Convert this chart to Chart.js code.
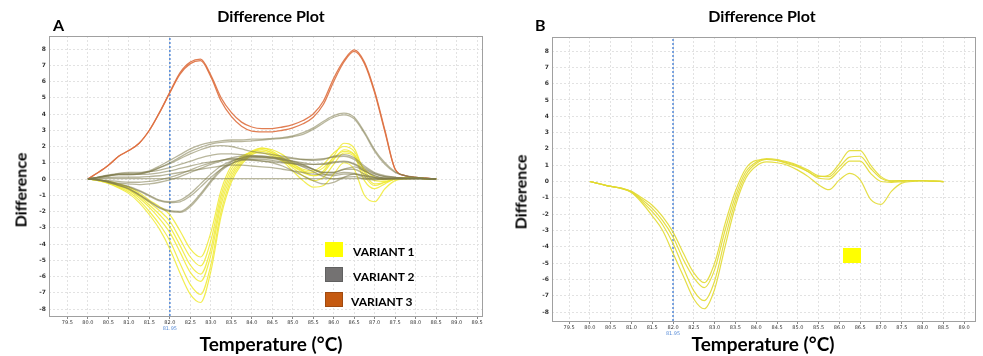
<!DOCTYPE html>
<html>
<head>
<meta charset="utf-8">
<script src="https://cdn.jsdelivr.net/npm/chart.js@4.4.1/dist/chart.umd.min.js"></script>
<style>
  html, body { margin: 0; padding: 0; background: #fff; }
  #wrap { position: relative; width: 983px; height: 356px; overflow: hidden; font-family: Lato, "Open Sans", sans-serif; color: #000; }
  canvas { position: absolute; top: 0; }
  .lbl { position: absolute; font-weight: bold; white-space: nowrap; }
  .title { font-size: 16px; transform: translateX(-50%); }
  .panel { font-size: 16px; }
  .xt { font-size: 19px; transform: translateX(-50%); }
  .yt { font-size: 16px; transform: translate(-50%, -50%) rotate(-90deg); }
  .sw { position: absolute; width: 18px; height: 15px; }
  .leg { font-size: 12px; }
</style>
</head>
<body>
<div id="wrap">
  <canvas id="chartA" width="490" height="356" style="left:0"></canvas>
  <canvas id="chartB" width="488" height="356" style="left:495px"></canvas>

  <div class="lbl panel" style="left:53px; top:15px;">A</div>
  <div class="lbl panel" style="left:535px; top:15px;">B</div>
  <div class="lbl title" style="left:271px; top:6px;">Difference Plot</div>
  <div class="lbl title" style="left:762px; top:6px;">Difference Plot</div>
  <div class="lbl yt" style="left:20px; top:190px;">Difference</div>
  <div class="lbl yt" style="left:520px; top:192px;">Difference</div>
  <div class="lbl xt" style="left:271px; top:332px;">Temperature (°C)</div>
  <div class="lbl xt" style="left:763px; top:332px;">Temperature (°C)</div>

  <div class="sw" style="left:325px; top:242px; background:#ffff00;"></div>
  <div class="sw" style="left:325px; top:267px; background:#747272; box-shadow: inset 0 0 0 1px #606060;"></div>
  <div class="sw" style="left:325px; top:292px; background:#c55a11; box-shadow: inset 0 0 0 1px #a04a10;"></div>
  <div class="lbl leg" style="left:353px; top:244px;">VARIANT 1</div>
  <div class="lbl leg" style="left:353px; top:269px;">VARIANT 2</div>
  <div class="lbl leg" style="left:351px; top:294px;">VARIANT 3</div>
  <div class="sw" style="left:843px; top:248px; background:#ffff00;"></div>
</div>

<script>
// temperatures shared by every curve
const temps = [80.0, 80.25, 80.5, 80.75, 81.0, 81.25, 81.5, 81.75, 82.0, 82.25, 82.5, 82.75,
               83.0, 83.25, 83.5, 83.75, 84.0, 84.25, 84.5, 84.75, 85.0, 85.25, 85.5, 85.75,
               86.0, 86.25, 86.5, 86.75, 87.0, 87.25, 87.5, 87.75, 88.0, 88.25, 88.5];

const xTicksA = [79.5, 80.0, 80.5, 81.0, 81.5, 82.0, 82.5, 83.0, 83.5, 84.0, 84.5, 85.0, 85.5, 86.0, 86.5, 87.0, 87.5, 88.0, 88.5, 89.0, 89.5];
const xTicksB = [79.5, 80.0, 80.5, 81.0, 81.5, 82.0, 82.5, 83.0, 83.5, 84.0, 84.5, 85.0, 85.5, 86.0, 86.5, 87.0, 87.5, 88.0, 88.5, 89.0];
const yTicks = [-8, -7, -6, -5, -4, -3, -2, -1, 0, 1, 2, 3, 4, 5, 6, 7, 8];
const markerTemp = 82.0;
const markerLabel = "81.95";

// panel A, variant 1 (yellow)
const yellowA = [
  [0, -0.05, -0.15, -0.3, -0.5, -0.85, -1.3, -1.7, -2.2, -3.2, -4.3, -4.8, -3.3, -0.7, 0.8, 1.4, 1.6, 1.6, 1.4, 1.1, 0.8, 0.5, 0.4, 0.7, 1.3, 1.7, 1.5, 0.6, 0.1, -0.05, 0.0, 0.05, 0.05, 0.02, 0],
  [0, -0.05, -0.18, -0.35, -0.55, -0.95, -1.45, -1.95, -2.6, -3.7, -4.8, -5.35, -3.8, -1.0, 0.6, 1.3, 1.7, 1.8, 1.6, 1.3, 0.9, 0.6, 0.5, 0.9, 1.6, 2.0, 1.7, 0.5, -0.1, -0.15, 0.0, 0.05, 0.05, 0.02, 0],
  [0, -0.08, -0.2, -0.4, -0.65, -1.05, -1.6, -2.2, -2.95, -4.1, -5.3, -5.85, -4.3, -1.3, 0.4, 1.2, 1.7, 1.9, 1.7, 1.3, 0.8, 0.4, 0.2, 0.5, 1.4, 2.2, 1.9, 0.4, -0.3, -0.2, 0.0, 0.05, 0.05, 0.02, 0],
  [0, -0.08, -0.22, -0.45, -0.7, -1.15, -1.75, -2.45, -3.3, -4.5, -5.75, -6.3, -4.7, -1.6, 0.2, 1.1, 1.6, 1.8, 1.6, 1.2, 0.7, 0.2, -0.1, 0.1, 0.9, 1.6, 1.4, -0.1, -0.6, -0.3, 0.0, 0.05, 0.05, 0.02, 0],
  [0, -0.1, -0.25, -0.5, -0.8, -1.3, -2.0, -2.8, -3.8, -5.2, -6.5, -7.1, -5.3, -2.0, 0.0, 1.0, 1.6, 1.9, 1.8, 1.5, 1.0, 0.5, 0.2, 0.4, 1.2, 1.8, 1.5, 0.2, -0.4, -0.2, 0.0, 0.05, 0.05, 0.02, 0],
  [0, -0.1, -0.28, -0.55, -0.9, -1.45, -2.2, -3.1, -4.3, -5.8, -7.1, -7.6, -5.7, -2.3, -0.2, 0.9, 1.5, 1.7, 1.5, 1.1, 0.5, -0.1, -0.5, -0.4, 0.3, 1.0, 0.6, -1.0, -1.4, -0.6, -0.1, 0.0, 0.05, 0.02, 0]
];

// panel A, variant 2 (olive grey)
const greyA = [
  [0, 0.1, 0.2, 0.3, 0.3, 0.35, 0.5, 0.8, 1.15, 1.5, 1.85, 2.1, 2.25, 2.35, 2.4, 2.4, 2.45, 2.45, 2.5, 2.55, 2.65, 2.85, 3.15, 3.55, 3.9, 4.05, 3.8, 2.9, 1.8, 1.0, 0.45, 0.2, 0.1, 0.05, 0],
  [0, 0.1, 0.2, 0.28, 0.3, 0.32, 0.45, 0.7, 1.0, 1.35, 1.7, 1.95, 2.15, 2.25, 2.3, 2.3, 2.35, 2.4, 2.45, 2.5, 2.6, 2.75, 3.05, 3.45, 3.8, 3.95, 3.7, 2.8, 1.7, 0.9, 0.4, 0.2, 0.1, 0.05, 0],
  [0, 0.1, 0.2, 0.25, 0.25, 0.3, 0.45, 0.7, 0.95, 1.25, 1.55, 1.8, 2.0, 2.05, 2.0, 1.85, 1.7, 1.6, 1.5, 1.4, 1.3, 1.2, 1.15, 1.2, 1.4, 1.5, 1.3, 0.8, 0.4, 0.2, 0.1, 0.05, 0.05, 0.02, 0],
  [0, 0.12, 0.25, 0.35, 0.4, 0.4, 0.45, 0.55, 0.7, 0.9, 1.1, 1.3, 1.45, 1.55, 1.55, 1.5, 1.45, 1.4, 1.35, 1.3, 1.25, 1.2, 1.2, 1.25, 1.35, 1.4, 1.2, 0.7, 0.35, 0.15, 0.1, 0.05, 0.05, 0.02, 0],
  [0, 0.1, 0.22, 0.3, 0.3, 0.28, 0.3, 0.38, 0.5, 0.65, 0.8, 0.95, 1.05, 1.15, 1.2, 1.2, 1.15, 1.1, 1.05, 1.0, 0.95, 0.9, 0.9, 0.95, 1.05, 1.1, 0.95, 0.6, 0.3, 0.15, 0.1, 0.05, 0.05, 0.02, 0],
  [0, 0.05, 0.1, 0.12, 0.12, 0.12, 0.15, 0.2, 0.3, 0.4, 0.5, 0.6, 0.7, 0.8, 0.85, 0.85, 0.8, 0.75, 0.7, 0.6, 0.5, 0.4, 0.3, 0.25, 0.3, 0.4, 0.35, 0.2, 0.1, 0.05, 0.05, 0.05, 0.05, 0.02, 0],
  [0, 0.02, 0.03, 0.03, 0.03, 0.03, 0.02, 0.02, 0.02, 0.02, 0.02, 0.02, 0.02, 0.02, 0.02, 0.02, 0.02, 0.02, 0.02, 0.02, 0.02, 0.02, 0.02, 0.02, 0.02, 0.02, 0.02, 0.02, 0.02, 0.02, 0.02, 0.02, 0.02, 0.02, 0],
  [0, -0.05, -0.1, -0.15, -0.2, -0.2, -0.15, -0.05, 0.1, 0.3, 0.55, 0.8, 1.0, 1.15, 1.25, 1.25, 1.2, 1.1, 1.0, 0.8, 0.5, 0.2, -0.1, -0.3, -0.2, 0.1, 0.3, 0.2, 0.05, 0.0, 0.02, 0.02, 0.02, 0.02, 0],
  [0, -0.05, -0.15, -0.25, -0.3, -0.35, -0.3, -0.2, -0.05, 0.15, 0.4, 0.65, 0.9, 1.1, 1.3, 1.4, 1.4, 1.35, 1.3, 1.2, 1.05, 0.85, 0.6, 0.4, 0.4, 0.6, 0.75, 0.5, 0.2, 0.05, 0.02, 0.02, 0.02, 0.02, 0],
  [0, -0.05, -0.15, -0.3, -0.45, -0.7, -1.0, -1.3, -1.4, -1.3, -0.9, -0.3, 0.3, 0.8, 1.1, 1.3, 1.35, 1.35, 1.3, 1.2, 1.1, 1.0, 0.9, 0.9, 1.0, 1.05, 0.9, 0.5, 0.2, 0.05, 0.02, 0.02, 0.02, 0.02, 0],
  [0, -0.05, -0.17, -0.33, -0.5, -0.75, -1.05, -1.35, -1.45, -1.4, -1.05, -0.5, 0.1, 0.6, 0.95, 1.15, 1.2, 1.2, 1.15, 1.05, 0.95, 0.8, 0.6, 0.4, 0.4, 0.6, 0.6, 0.3, 0.1, 0.02, 0.02, 0.02, 0.02, 0.02, 0],
  [0, -0.05, -0.2, -0.38, -0.6, -0.95, -1.35, -1.75, -1.95, -2.0, -1.6, -0.9, -0.1, 0.6, 1.05, 1.3, 1.4, 1.4, 1.35, 1.25, 1.1, 0.9, 0.6, 0.3, 0.2, 0.3, 0.3, 0.1, 0.0, 0.0, 0.02, 0.02, 0.02, 0.02, 0],
  [0, -0.05, -0.22, -0.4, -0.62, -1.0, -1.4, -1.8, -2.0, -2.05, -1.7, -1.0, -0.2, 0.5, 0.95, 1.2, 1.3, 1.3, 1.25, 1.15, 1.0, 0.75, 0.45, 0.15, 0.0, 0.1, 0.15, 0.0, -0.05, 0.0, 0.02, 0.02, 0.02, 0.02, 0]
];

// panel A, variant 3 (orange)
const orangeA = [
  [0, 0.4, 0.85, 1.4, 1.75, 2.2, 3.0, 4.1, 5.35, 6.55, 7.2, 7.38, 6.4, 5.0, 4.1, 3.5, 3.2, 3.1, 3.1, 3.2, 3.35, 3.6, 4.0, 4.8, 6.2, 7.3, 7.95, 7.2, 5.4, 3.0, 0.6, 0.2, 0.1, 0.05, 0],
  [0, 0.4, 0.85, 1.4, 1.75, 2.2, 3.0, 4.1, 5.3, 6.45, 7.1, 7.28, 6.3, 4.8, 3.85, 3.25, 2.95, 2.9, 2.9, 3.0, 3.15, 3.4, 3.8, 4.6, 6.0, 7.2, 7.85, 7.1, 5.3, 2.9, 0.6, 0.2, 0.1, 0.05, 0]
];

// panel B, variant 1 only
const yellowB = [
  [0, -0.15, -0.3, -0.4, -0.6, -1.0, -1.45, -2.15, -3.1, -4.4, -5.6, -6.2, -5.0, -2.6, -0.6, 0.8, 1.3, 1.35, 1.3, 1.1, 0.9, 0.6, 0.3, 0.4, 1.1, 1.9, 1.9, 1.0, 0.3, 0.05, 0.05, 0.05, 0.05, 0.02, 0],
  [0, -0.15, -0.3, -0.4, -0.62, -1.1, -1.65, -2.4, -3.4, -4.8, -5.9, -6.5, -5.4, -3.0, -0.9, 0.6, 1.2, 1.4, 1.35, 1.2, 1.0, 0.7, 0.35, 0.3, 0.9, 1.5, 1.55, 0.8, 0.2, 0.0, 0.05, 0.05, 0.05, 0.02, 0],
  [0, -0.15, -0.3, -0.42, -0.65, -1.2, -1.85, -2.65, -3.8, -5.3, -6.7, -7.3, -6.1, -3.5, -1.2, 0.4, 1.1, 1.35, 1.3, 1.15, 0.95, 0.6, 0.2, 0.15, 0.7, 1.25, 1.25, 0.5, 0.0, -0.05, 0.0, 0.05, 0.05, 0.02, 0],
  [0, -0.15, -0.3, -0.42, -0.68, -1.3, -2.1, -3.0, -4.4, -5.8, -7.2, -7.8, -6.6, -4.0, -1.5, 0.2, 0.95, 1.2, 1.15, 1.0, 0.7, 0.3, -0.2, -0.5, 0.1, 0.5, 0.1, -1.1, -1.4, -0.6, -0.1, 0.0, 0.05, 0.02, 0]
];

const YELLOW = "rgba(240, 234, 50, 0.85)";
const YELLOW_B = "rgba(226, 218, 50, 0.9)";
const GREY = "rgba(125, 122, 75, 0.55)";
const ORANGE = "rgba(222, 112, 64, 0.9)";

function curve(vals, color, width) {
  return {
    data: vals.map((v, i) => ({ x: temps[i], y: v })),
    borderColor: color,
    borderWidth: width,
    pointRadius: 0,
    fill: false,
    cubicInterpolationMode: "monotone"
  };
}

function marker(yMin, yMax) {
  return {
    data: [{ x: markerTemp, y: yMin }, { x: markerTemp, y: yMax }],
    borderColor: "#5b8ed8",
    borderWidth: 1.6,
    borderDash: [2, 2],
    pointRadius: 0,
    fill: false
  };
}

// frame round the plot area and the small blue value under the marker
const framePlugin = {
  id: "frame",
  afterDraw(chart) {
    const a = chart.chartArea, ctx = chart.ctx;
    ctx.save();
    ctx.strokeStyle = "#a0a0a0";
    ctx.lineWidth = 1;
    ctx.strokeRect(a.left + 0.5, a.top + 0.5, a.right - a.left, a.bottom - a.top);
    ctx.fillStyle = "#5b8ed8";
    ctx.font = "5px 'DejaVu Sans'";
    ctx.textAlign = "center";
    ctx.fillText(markerLabel, chart.scales.x.getPixelForValue(markerTemp), a.bottom + 14);
    ctx.restore();
  }
};

function makeChart(id, datasets, xMin, xMax, yMin, yMax, xTicks, yAxisWidth, pad) {
  return new Chart(document.getElementById(id), {
    type: "line",
    data: { datasets: datasets },
    options: {
      responsive: false,
      animation: false,
      devicePixelRatio: 1,
      layout: { padding: pad },
      plugins: { legend: { display: false }, tooltip: { enabled: false } },
      scales: {
        x: {
          type: "linear",
          min: xMin,
          max: xMax,
          afterBuildTicks: s => { s.ticks = xTicks.map(v => ({ value: v })); },
          afterFit: s => { s.height = 14; },
          ticks: {
            autoSkip: false,
            maxRotation: 0,
            padding: 1,
            color: "#333",
            font: { size: 5, family: "DejaVu Sans" },
            callback: v => Number(v).toFixed(1)
          },
          grid: { color: "#e2e2e2", tickColor: "#888", tickLength: 3 },
          border: { display: false, dash: [2, 2] }
        },
        y: {
          min: yMin,
          max: yMax,
          afterBuildTicks: s => { s.ticks = yTicks.map(v => ({ value: v })); },
          afterFit: s => { s.width = yAxisWidth; },
          ticks: {
            padding: 3,
            color: "#333",
            font: { size: 6, weight: "bold", family: "DejaVu Sans" }
          },
          grid: { color: "#e2e2e2", drawTicks: false },
          border: { display: false, dash: [2, 2] }
        }
      }
    },
    plugins: [framePlugin]
  });
}

const dsA = [].concat(
  greyA.map(v => curve(v, GREY, 1.3)),
  yellowA.map(v => curve(v, YELLOW, 1.2)),
  orangeA.map(v => curve(v, ORANGE, 1.3)),
  [marker(-8.43, 8.8)]
);
makeChart("chartA", dsA, 79.05, 89.62, -8.43, 8.8, xTicksA, 49, { top: 36, right: 8, bottom: 26, left: 0 });

const dsB = [].concat(
  yellowB.map(v => curve(v, YELLOW_B, 1.2)),
  [marker(-8.55, 8.86)]
);
makeChart("chartB", dsB, 79.09, 89.26, -8.55, 8.86, xTicksB, 57, { top: 37, right: 8, bottom: 21, left: 0 });
</script>
</body>
</html>
